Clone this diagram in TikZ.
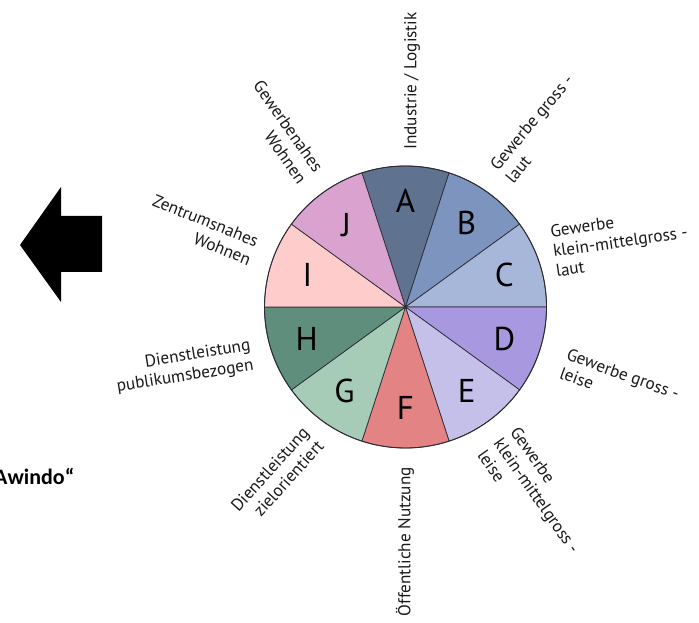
\documentclass[tikz,border=0pt]{standalone}
\usepackage{fontspec}
\setmainfont{PT Sans}
\newfontfamily\quotefont{Carlito}
\usetikzlibrary{positioning}

\definecolor{colA}{HTML}{5F7391}
\definecolor{colB}{HTML}{7D95BE}
\definecolor{colC}{HTML}{A7B7D9}
\definecolor{colD}{HTML}{A898E0}
\definecolor{colE}{HTML}{C4C0E9}
\definecolor{colF}{HTML}{E38383}
\definecolor{colG}{HTML}{A6CBB6}
\definecolor{colH}{HTML}{5F8F7C}
\definecolor{colI}{HTML}{FFCCCC}
\definecolor{colJ}{HTML}{D9A2CF}
\definecolor{rim}{HTML}{2B2B33}

\begin{document}
\begin{tikzpicture}[x=1pt,y=1pt,
        wedge/.style={draw=rim,line width=0.7pt,line join=round},
        letter/.style={inner sep=0pt,font=\fontsize{33}{33}\selectfont,text=black},
        zone/.style={inner sep=0pt,font=\fontsize{17.2}{20}\selectfont,text=black!90},
        outzone/.style={zone,anchor=west,align=left},
        inzone/.style={zone,anchor=east,align=right}]
    \useasboundingbox (0,0) rectangle (699,622);

    % left arrow
    \fill[black] (20,377) -- (61,435) -- (61,406) -- (102,406)
        -- (102,350) -- (61,350) -- (61,320) -- cycle;
    \node[anchor=base west,inner sep=0pt,font=\quotefont\bfseries\fontsize{22}{22}\selectfont] (awindo) at (-6,138) {Awindo“};

    \begin{scope}[shift={(405.5,315)}]
        \coordinate (c) at (0,0);
        % sectors
        \filldraw[wedge,fill=colA] (c) -- (72:141) arc[start angle=72,end angle=108,radius=141] -- cycle;
        \filldraw[wedge,fill=colB] (c) -- (36:141) arc[start angle=36,end angle=72,radius=141] -- cycle;
        \filldraw[wedge,fill=colC] (c) -- (0:141) arc[start angle=0,end angle=36,radius=141] -- cycle;
        \filldraw[wedge,fill=colD] (c) -- (-36:141) arc[start angle=-36,end angle=0,radius=141] -- cycle;
        \filldraw[wedge,fill=colE] (c) -- (-72:141) arc[start angle=-72,end angle=-36,radius=141] -- cycle;
        \filldraw[wedge,fill=colF] (c) -- (-108:141) arc[start angle=-108,end angle=-72,radius=141] -- cycle;
        \filldraw[wedge,fill=colG] (c) -- (-144:141) arc[start angle=-144,end angle=-108,radius=141] -- cycle;
        \filldraw[wedge,fill=colH] (c) -- (180:141) arc[start angle=180,end angle=216,radius=141] -- cycle;
        \filldraw[wedge,fill=colI] (c) -- (144:141) arc[start angle=144,end angle=180,radius=141] -- cycle;
        \filldraw[wedge,fill=colJ] (c) -- (108:141) arc[start angle=108,end angle=144,radius=141] -- cycle;
        \draw[rim,line width=0.9pt] (c) circle[radius=141];
        \fill[rim] (c) circle[radius=1.6];

        % letters
        \node[letter] (a) at (90:106) {A};
        \node[letter] (b) at (54:104) {B};
        \node[letter] (cc) at (18:104) {C};
        \node[letter] (d) at (-18:104) {D};
        \node[letter] (e) at (-54:104) {E};
        \node[letter] (f) at (-90:101) {F};
        \node[letter] (g) at (-126:104) {G};
        \node[letter] (h) at (-162:104) {H};
        \node[letter] (i) at (162:103) {I};
        \node[letter] (j) at (126:101) {J};

        % zone labels
        \node[outzone,rotate=90] (la) at (6.5,157) {Industrie / Logistik};
        \node[outzone,rotate=50] (lb) at (95.5,133) {Gewerbe gross -\\laut};
        \node[outzone,rotate=8] (lc) at (147.5,56) {Gewerbe\\klein-mittelgross -\\laut};
        \node[outzone,rotate=-20] (ld) at (158.5,-56) {Gewerbe gross -\\leise};
        \node[outzone,rotate=-55] (le) at (92.5,-133) {Gewerbe\\klein-mittelgross -\\leise};
        \node[inzone,rotate=90] (lf) at (-0.5,-160) {Öffentliche Nutzung};
        \node[inzone,rotate=48] (lg) at (-92.5,-129) {Dienstleistung\\zielorientiert};
        \node[inzone,rotate=9] (lh) at (-153.5,-49) {Dienstleistung\\publikumsbezogen};
        \node[inzone,rotate=-22] (li) at (-151.5,56) {Zentrumsnahes\\Wohnen};
        \node[inzone,rotate=-55] (lj) at (-94.5,131) {Gewerbenahes\\Wohnen};
    \end{scope}
\end{tikzpicture}
\end{document}
